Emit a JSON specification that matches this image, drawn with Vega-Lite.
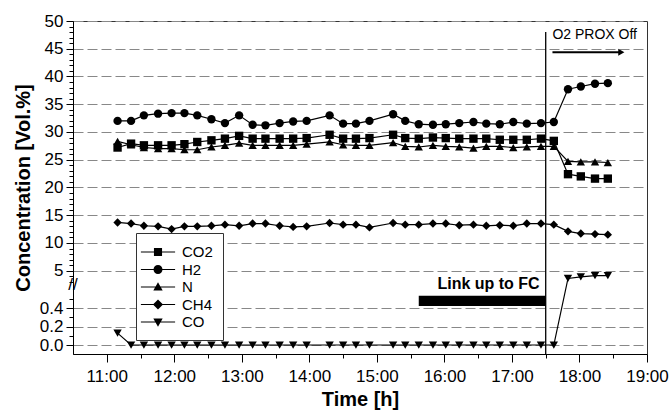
{
  "$schema": "https://vega.github.io/schema/vega-lite/v6.json",
  "width": 574,
  "height": 333,
  "autosize": {"type": "none"},
  "padding": {"left": 73, "top": 21, "right": 24, "bottom": 58},
  "background": "white",
  "config": {
    "font": "Liberation Sans",
    "view": {"stroke": "#333", "strokeWidth": 1},
    "axis": {"domainColor": "black", "tickColor": "black", "labelColor": "black", "titleColor": "black"}
  },
  "datasets": {
    "gas": [
      {"t":11.16,"s":"CO2","v":27.2},{"t":11.36,"s":"CO2","v":27.9},{"t":11.55,"s":"CO2","v":27.6},{"t":11.76,"s":"CO2","v":27.6},{"t":11.96,"s":"CO2","v":27.6},{"t":12.15,"s":"CO2","v":27.8},{"t":12.34,"s":"CO2","v":28.2},{"t":12.55,"s":"CO2","v":28.5},{"t":12.75,"s":"CO2","v":28.8},{"t":12.96,"s":"CO2","v":29.3},{"t":13.16,"s":"CO2","v":28.8},{"t":13.35,"s":"CO2","v":28.8},{"t":13.56,"s":"CO2","v":28.8},{"t":13.76,"s":"CO2","v":28.8},{"t":13.96,"s":"CO2","v":28.9},{"t":14.30,"s":"CO2","v":29.5},{"t":14.50,"s":"CO2","v":28.8},{"t":14.69,"s":"CO2","v":28.8},{"t":14.89,"s":"CO2","v":28.9},{"t":15.24,"s":"CO2","v":29.5},{"t":15.42,"s":"CO2","v":28.9},{"t":15.62,"s":"CO2","v":28.8},{"t":15.83,"s":"CO2","v":29.0},{"t":16.02,"s":"CO2","v":28.9},{"t":16.22,"s":"CO2","v":28.8},{"t":16.43,"s":"CO2","v":28.8},{"t":16.62,"s":"CO2","v":28.8},{"t":16.82,"s":"CO2","v":28.6},{"t":17.02,"s":"CO2","v":28.6},{"t":17.22,"s":"CO2","v":28.6},{"t":17.43,"s":"CO2","v":28.8},{"t":17.62,"s":"CO2","v":28.4},{"t":17.83,"s":"CO2","v":22.4},{"t":18.02,"s":"CO2","v":22.0},{"t":18.23,"s":"CO2","v":21.6},{"t":18.42,"s":"CO2","v":21.6},
      {"t":11.16,"s":"H2","v":32.0},{"t":11.36,"s":"H2","v":32.0},{"t":11.55,"s":"H2","v":33.0},{"t":11.76,"s":"H2","v":33.3},{"t":11.96,"s":"H2","v":33.4},{"t":12.15,"s":"H2","v":33.4},{"t":12.34,"s":"H2","v":33.0},{"t":12.55,"s":"H2","v":32.3},{"t":12.75,"s":"H2","v":31.6},{"t":12.96,"s":"H2","v":33.0},{"t":13.16,"s":"H2","v":31.3},{"t":13.35,"s":"H2","v":31.2},{"t":13.56,"s":"H2","v":31.6},{"t":13.76,"s":"H2","v":31.9},{"t":13.96,"s":"H2","v":32.0},{"t":14.30,"s":"H2","v":33.0},{"t":14.50,"s":"H2","v":31.5},{"t":14.69,"s":"H2","v":31.5},{"t":14.89,"s":"H2","v":32.0},{"t":15.24,"s":"H2","v":33.2},{"t":15.42,"s":"H2","v":32.0},{"t":15.62,"s":"H2","v":31.4},{"t":15.83,"s":"H2","v":31.3},{"t":16.02,"s":"H2","v":31.4},{"t":16.22,"s":"H2","v":31.6},{"t":16.43,"s":"H2","v":31.8},{"t":16.62,"s":"H2","v":31.5},{"t":16.82,"s":"H2","v":31.4},{"t":17.02,"s":"H2","v":31.8},{"t":17.22,"s":"H2","v":31.5},{"t":17.43,"s":"H2","v":31.6},{"t":17.62,"s":"H2","v":31.8},{"t":17.83,"s":"H2","v":37.7},{"t":18.02,"s":"H2","v":38.2},{"t":18.23,"s":"H2","v":38.7},{"t":18.42,"s":"H2","v":38.8},
      {"t":11.16,"s":"N","v":28.3},{"t":11.36,"s":"N","v":27.7},{"t":11.55,"s":"N","v":27.2},{"t":11.76,"s":"N","v":27.0},{"t":11.96,"s":"N","v":27.0},{"t":12.15,"s":"N","v":26.8},{"t":12.34,"s":"N","v":26.8},{"t":12.55,"s":"N","v":27.3},{"t":12.75,"s":"N","v":27.6},{"t":12.96,"s":"N","v":28.0},{"t":13.16,"s":"N","v":27.6},{"t":13.35,"s":"N","v":27.6},{"t":13.56,"s":"N","v":27.6},{"t":13.76,"s":"N","v":27.6},{"t":13.96,"s":"N","v":27.8},{"t":14.30,"s":"N","v":28.2},{"t":14.50,"s":"N","v":27.7},{"t":14.69,"s":"N","v":27.6},{"t":14.89,"s":"N","v":27.6},{"t":15.24,"s":"N","v":28.1},{"t":15.42,"s":"N","v":27.4},{"t":15.62,"s":"N","v":27.3},{"t":15.83,"s":"N","v":27.6},{"t":16.02,"s":"N","v":27.4},{"t":16.22,"s":"N","v":27.3},{"t":16.43,"s":"N","v":27.1},{"t":16.62,"s":"N","v":27.4},{"t":16.82,"s":"N","v":27.4},{"t":17.02,"s":"N","v":27.2},{"t":17.22,"s":"N","v":27.3},{"t":17.43,"s":"N","v":27.4},{"t":17.62,"s":"N","v":27.4},{"t":17.83,"s":"N","v":24.7},{"t":18.02,"s":"N","v":24.6},{"t":18.23,"s":"N","v":24.6},{"t":18.42,"s":"N","v":24.5},
      {"t":11.16,"s":"CH4","v":13.7},{"t":11.36,"s":"CH4","v":13.5},{"t":11.55,"s":"CH4","v":13.1},{"t":11.76,"s":"CH4","v":13.0},{"t":11.96,"s":"CH4","v":12.5},{"t":12.15,"s":"CH4","v":13.0},{"t":12.34,"s":"CH4","v":13.0},{"t":12.55,"s":"CH4","v":13.1},{"t":12.75,"s":"CH4","v":13.3},{"t":12.96,"s":"CH4","v":13.1},{"t":13.16,"s":"CH4","v":13.5},{"t":13.35,"s":"CH4","v":13.5},{"t":13.56,"s":"CH4","v":13.1},{"t":13.76,"s":"CH4","v":12.9},{"t":13.96,"s":"CH4","v":13.0},{"t":14.30,"s":"CH4","v":13.6},{"t":14.50,"s":"CH4","v":13.3},{"t":14.69,"s":"CH4","v":13.3},{"t":14.89,"s":"CH4","v":12.8},{"t":15.24,"s":"CH4","v":13.6},{"t":15.42,"s":"CH4","v":13.3},{"t":15.62,"s":"CH4","v":13.3},{"t":15.83,"s":"CH4","v":13.5},{"t":16.02,"s":"CH4","v":13.5},{"t":16.22,"s":"CH4","v":13.2},{"t":16.43,"s":"CH4","v":13.3},{"t":16.62,"s":"CH4","v":13.1},{"t":16.82,"s":"CH4","v":13.2},{"t":17.02,"s":"CH4","v":13.1},{"t":17.22,"s":"CH4","v":13.5},{"t":17.43,"s":"CH4","v":13.5},{"t":17.62,"s":"CH4","v":13.3},{"t":17.83,"s":"CH4","v":12.1},{"t":18.02,"s":"CH4","v":11.7},{"t":18.23,"s":"CH4","v":11.6},{"t":18.42,"s":"CH4","v":11.5},
      {"t":11.16,"s":"CO","v":0.13},{"t":11.36,"s":"CO","v":0},{"t":11.55,"s":"CO","v":0},{"t":11.76,"s":"CO","v":0},{"t":11.96,"s":"CO","v":0},{"t":12.15,"s":"CO","v":0},{"t":12.34,"s":"CO","v":0},{"t":12.55,"s":"CO","v":0},{"t":12.75,"s":"CO","v":0},{"t":12.96,"s":"CO","v":0},{"t":13.16,"s":"CO","v":0},{"t":13.35,"s":"CO","v":0},{"t":13.56,"s":"CO","v":0},{"t":13.76,"s":"CO","v":0},{"t":13.96,"s":"CO","v":0},{"t":14.30,"s":"CO","v":0},{"t":14.50,"s":"CO","v":0},{"t":14.69,"s":"CO","v":0},{"t":14.89,"s":"CO","v":0},{"t":15.24,"s":"CO","v":0},{"t":15.42,"s":"CO","v":0},{"t":15.62,"s":"CO","v":0},{"t":15.83,"s":"CO","v":0},{"t":16.02,"s":"CO","v":0},{"t":16.22,"s":"CO","v":0},{"t":16.43,"s":"CO","v":0},{"t":16.62,"s":"CO","v":0},{"t":16.82,"s":"CO","v":0},{"t":17.02,"s":"CO","v":0},{"t":17.22,"s":"CO","v":0},{"t":17.43,"s":"CO","v":0},{"t":17.62,"s":"CO","v":0},{"t":17.83,"s":"CO","v":3.6},{"t":18.02,"s":"CO","v":3.9},{"t":18.23,"s":"CO","v":4.1},{"t":18.42,"s":"CO","v":4.1}
    ]
  },
  "layer": [
    {
      "data": {"name": "gas"},
      "mark": {"type": "line", "color": "black", "strokeWidth": 1.2},
      "encoding": {
        "x": {"field": "t", "type": "quantitative",
          "scale": {"domain": [10.5, 19], "nice": false, "zero": false},
          "axis": {"orient": "bottom", "values": [11,12,13,14,15,16,17,18,19], "labelExpr": "datum.value + ':00'", "tickSize": 8, "labelPadding": 6, "labelFontSize": 17, "labelFlush": false, "title": "Time [h]", "titleFontSize": 20, "titleFontWeight": "bold", "titlePadding": 5, "grid": false}},
        "y": {"field": "v", "type": "quantitative",
          "scale": {"domain": [-0.098, 0.65, 2.5, 50], "range": [333, 264.4, 263.6, 0], "nice": false, "zero": false},
          "axis": {"orient": "left", "values": [0,0.2,0.4,5,10,15,20,25,30,35,40,45,50], "labelExpr": "datum.value < 1 ? format(datum.value, '.1f') : format(datum.value, 'd')", "tickSize": 7, "labelPadding": 3, "labelFontSize": 17, "labelFlush": false, "title": "Concentration [Vol.%]", "titleFontSize": 20, "titleFontWeight": "bold", "titlePadding": 6, "grid": true, "gridDash": [10, 4], "gridColor": "#888", "gridWidth": 1}},
        "detail": {"field": "s"}
      }
    },
    {
      "data": {"name": "gas"},
      "mark": {"type": "point", "filled": true, "color": "black", "size": 70, "opacity": 1},
      "encoding": {
        "x": {"field": "t", "type": "quantitative", "axis": null},
        "y": {"field": "v", "type": "quantitative", "axis": null},
        "shape": {"field": "s", "type": "nominal", "scale": {"domain": ["CO2","H2","N","CH4","CO"], "range": ["square","circle","triangle-up","diamond","triangle-down"]}, "legend": null}
      }
    },
    {
      "data": {"name": "gas"},
      "mark": {"type": "point", "filled": true, "color": "black", "opacity": 0},
      "encoding": {
        "x": {"field": "t", "type": "quantitative", "axis": null},
        "y": {"field": "v", "type": "quantitative", "axis": null},
        "shape": {"field": "s", "type": "nominal",
          "scale": {"domain": ["CO2","H2","N","CH4","CO"], "range": [
            "M-1.9,-0.067H1.9V0.067H-1.9ZM-0.45,-0.45H0.45V0.45H-0.45Z",
            "M-1.9,-0.067H1.9V0.067H-1.9ZM-0.5,0A0.5,0.5,0,1,1,0.5,0A0.5,0.5,0,1,1,-0.5,0Z",
            "M-1.9,-0.067H1.9V0.067H-1.9ZM0,-0.52L0.52,0.38L-0.52,0.38Z",
            "M-1.9,-0.067H1.9V0.067H-1.9ZM0,-0.56L0.56,0L0,0.56L-0.56,0Z",
            "M-1.9,-0.067H1.9V0.067H-1.9ZM0,0.52L-0.52,-0.38L0.52,-0.38Z"]},
          "legend": {"title": null, "orient": "none", "legendX": 63, "legendY": 212, "symbolSize": 324, "symbolOffset": 3, "symbolOpacity": 1, "symbolFillColor": "black", "symbolStrokeColor": "black", "symbolStrokeWidth": 0, "labelFontSize": 15, "labelOffset": 15, "labelColor": "black", "padding": 10, "rowPadding": 0.5, "strokeColor": "#333", "fillColor": "white",
            "encode": {"symbols": {"update": {"fill": {"value": "black"}, "opacity": {"value": 1}}}}}}
      }
    },
    {
      "data": {"values": [{"t": 17.5, "top": 48.0, "bot": -0.098}]},
      "mark": {"type": "rule", "color": "black", "strokeWidth": 1.3},
      "encoding": {
        "x": {"field": "t", "type": "quantitative", "axis": {"orient": "bottom", "values": [11.5,12.5,13.5,14.5,15.5,16.5,17.5,18.5], "labels": false, "tickSize": 4, "domain": false, "grid": false, "title": null}},
        "y": {"field": "top", "type": "quantitative", "axis": {"orient": "left", "values": [0.1,0.3,0.5,3,4,6,7,8,9,11,12,13,14,16,17,18,19,21,22,23,24,26,27,28,29,31,32,33,34,36,37,38,39,41,42,43,44,46,47,48,49], "labels": false, "tickSize": 4, "domain": false, "grid": false, "title": null}},
        "y2": {"field": "bot"}
      }
    },
    {
      "data": {"values": [{"a": 15.62, "b": 17.5, "lo": 0.425, "hi": 0.538}]},
      "mark": {"type": "rect", "color": "black"},
      "encoding": {
        "x": {"field": "a", "type": "quantitative", "axis": null},
        "x2": {"field": "b"},
        "y": {"field": "lo", "type": "quantitative", "axis": null},
        "y2": {"field": "hi"}
      }
    },
    {
      "data": {"values": [{"a": 17.6, "b": 18.6, "v": 44.36}]},
      "mark": {"type": "rule", "color": "black", "strokeWidth": 2},
      "encoding": {
        "x": {"field": "a", "type": "quantitative", "axis": null},
        "x2": {"field": "b"},
        "y": {"field": "v", "type": "quantitative", "axis": null}
      }
    },
    {
      "data": {"values": [{"a": 18.62, "v": 44.36}]},
      "mark": {"type": "point", "shape": "triangle-right", "filled": true, "color": "black", "size": 50, "opacity": 1},
      "encoding": {
        "x": {"field": "a", "type": "quantitative", "axis": null},
        "y": {"field": "v", "type": "quantitative", "axis": null}
      }
    },
    {
      "data": {"values": [{"a": 17.41, "v": 2.61, "label": "Link up to FC"}]},
      "mark": {"type": "text", "align": "right", "baseline": "middle", "fontSize": 16, "fontWeight": "bold", "color": "black"},
      "encoding": {
        "x": {"field": "a", "type": "quantitative", "axis": null},
        "y": {"field": "v", "type": "quantitative", "axis": null},
        "text": {"field": "label"}
      }
    },
    {
      "data": {"values": [{"a": 17.6, "v": 47.5, "label": "O2 PROX Off"}]},
      "mark": {"type": "text", "align": "left", "baseline": "middle", "fontSize": 14, "color": "black"},
      "encoding": {
        "x": {"field": "a", "type": "quantitative", "axis": null},
        "y": {"field": "v", "type": "quantitative", "axis": null},
        "text": {"field": "label"}
      }
    },
    {
      "data": {"values": [{"a": 10.5, "v": 1.5, "label": "//"}]},
      "mark": {"type": "text", "align": "center", "baseline": "middle", "fontSize": 17, "color": "black"},
      "encoding": {
        "x": {"field": "a", "type": "quantitative", "axis": null},
        "y": {"field": "v", "type": "quantitative", "axis": null},
        "text": {"field": "label"}
      }
    }
  ],
  "resolve": {"scale": {"shape": "independent"}, "axis": {"x": "independent", "y": "independent"}}
}
